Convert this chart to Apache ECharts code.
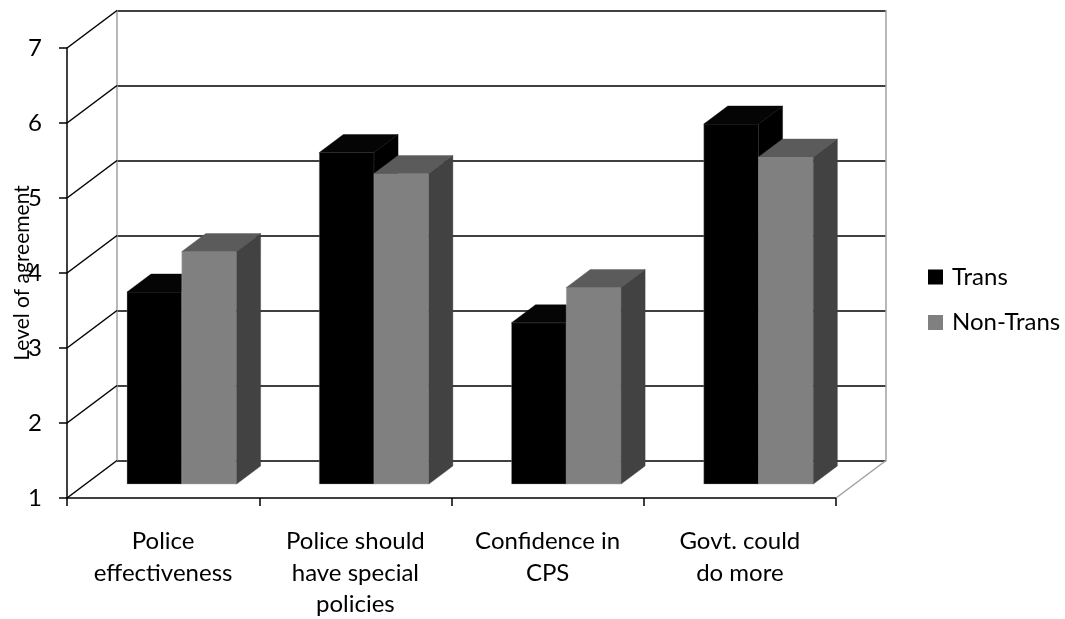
<!DOCTYPE html>
<html>
<head>
<meta charset="utf-8">
<script src="https://cdn.jsdelivr.net/npm/echarts@6/dist/echarts.min.js"></script>
<style>
  html, body { margin: 0; padding: 0; background: #ffffff; }
  #chart { width: 1065px; height: 619px; }
</style>
</head>
<body>
<div id="chart"></div>
<script>
// Survey answers by group (1–7 agreement scale)
const categories = ['Police effectiveness', 'Police should have special policies', 'Confidence in CPS', 'Govt. could do more'];
const categoryLabels = ['Police\neffectiveness', 'Police should\nhave special\npolicies', 'Confidence in\nCPS', 'Govt. could\ndo more'];
const seriesNames = ['Trans', 'Non-Trans'];
const transValues = [3.56, 5.42, 3.15, 5.80];
const nonTransValues = [4.10, 5.14, 3.62, 5.36];
const yTicks = [1, 2, 3, 4, 5, 6, 7];
const axisTitle = 'Level of agreement';

const FONT = 'Lato, "Open Sans", sans-serif';

// Pseudo-3D box geometry (pixels): back wall shift, bar front-face shift, bar thickness
const WALL = [50, -37.5];
const FACE = [18.7, -14];
const DEPTH = [24, -18];
const BAR_FRAC = 0.285;

const palette = {
  Trans: { front: '#000000', top: '#050505', side: '#000000', edge: 'rgba(150,150,150,0.6)' },
  'Non-Trans': { front: '#808080', top: '#5b5b5b', side: '#424242', edge: 'rgba(170,170,170,0.8)' }
};

function barRenderer(slot, colors) {
  return function (params, api) {
    const idx = api.value(0);
    const val = api.value(1);
    const topPt = api.coord([idx, val]);
    const basePt = api.coord([idx, yTicks[0]]);
    const band = api.size([1, 0])[0];
    const w = band * BAR_FRAC;
    const x0 = topPt[0] + (slot === 0 ? -w : 0) + FACE[0];
    const x1 = x0 + w;
    const yt = topPt[1] + FACE[1];
    const yb = basePt[1] + FACE[1];
    const dx = DEPTH[0], dy = DEPTH[1];
    return {
      type: 'group',
      children: [
        { type: 'polygon', shape: { points: [[x0, yt], [x1, yt], [x1, yb], [x0, yb]] },
          style: { fill: colors.front, stroke: colors.edge, lineWidth: 0.6 } },
        { type: 'polygon', shape: { points: [[x0, yt], [x1, yt], [x1 + dx, yt + dy], [x0 + dx, yt + dy]] },
          style: { fill: colors.top, stroke: colors.top, lineWidth: 0.4 } },
        { type: 'polygon', shape: { points: [[x1, yt], [x1 + dx, yt + dy], [x1 + dx, yb + dy], [x1, yb]] },
          style: { fill: colors.side, stroke: colors.side, lineWidth: 0.4 } }
      ]
    };
  };
}

// Side-wall diagonals at each tick plus the right floor edge
function frameRenderer(params, api) {
  const v = api.value(1);
  const p = api.coord([0, v]);
  const band = api.size([1, 0])[0];
  const xl = p[0] - band / 2;
  const children = [
    { type: 'line', shape: { x1: xl, y1: p[1], x2: xl + WALL[0], y2: p[1] + WALL[1] },
      style: { stroke: '#000000', lineWidth: 1.5 } }
  ];
  if (v === yTicks[0]) {
    const xr = xl + band * categories.length;
    children.push({ type: 'line', shape: { x1: xr, y1: p[1], x2: xr + WALL[0], y2: p[1] + WALL[1] },
      style: { stroke: '#a0a0a0', lineWidth: 1.5 } });
  }
  return { type: 'group', children };
}

const chart = echarts.init(document.getElementById('chart'), null, { renderer: 'canvas' });

chart.setOption({
  backgroundColor: '#ffffff',
  animation: false,
  textStyle: { fontFamily: FONT },
  legend: {
    data: seriesNames,
    orient: 'vertical',
    left: 928,
    top: 262,
    padding: 0,
    icon: 'rect',
    itemWidth: 15,
    itemHeight: 15,
    itemGap: 15.5,
    selectedMode: false,
    textStyle: { fontFamily: FONT, fontSize: 24, lineHeight: 30, color: '#000000', padding: [0, 0, 0, 4] }
  },
  grid: [
    { left: 67, right: 229, top: 48, bottom: 121, outerBoundsMode: 'none', containLabel: false },
    { left: 117, right: 179, top: 10.5, bottom: 158.5, outerBoundsMode: 'none', containLabel: false }
  ],
  xAxis: [
    {
      gridIndex: 0,
      type: 'category',
      data: categories,
      boundaryGap: true,
      axisLine: { show: true, lineStyle: { color: '#000000', width: 1.5 } },
      axisTick: { show: true, length: 8, inside: false, lineStyle: { color: '#000000', width: 1.5 } },
      axisLabel: {
        margin: 28,
        fontFamily: FONT,
        fontSize: 24,
        lineHeight: 31.5,
        color: '#000000',
        interval: 0,
        formatter: (value, index) => categoryLabels[index]
      },
      splitLine: { show: false }
    },
    { gridIndex: 1, type: 'category', data: categories, show: false }
  ],
  yAxis: [
    {
      gridIndex: 0,
      type: 'value',
      min: yTicks[0],
      max: yTicks[yTicks.length - 1],
      interval: 1,
      name: axisTitle,
      nameLocation: 'middle',
      nameGap: 34,
      nameRotate: 90,
      nameMoveOverlap: false,
      nameTextStyle: { fontFamily: FONT, fontSize: 21, color: '#000000' },
      axisLine: { show: true, lineStyle: { color: '#000000', width: 1.5 } },
      axisTick: { show: true, length: 8, inside: false, lineStyle: { color: '#000000', width: 1.5 } },
      axisLabel: { margin: 25, fontFamily: FONT, fontSize: 24, color: '#000000', padding: [10, 0, 0, 0] },
      splitLine: { show: false }
    },
    {
      gridIndex: 1,
      type: 'value',
      position: 'left',
      min: yTicks[0],
      max: yTicks[yTicks.length - 1],
      interval: 1,
      axisLine: { show: true, lineStyle: { color: '#a0a0a0', width: 1.5 } },
      axisTick: { show: false },
      axisLabel: { show: false },
      splitLine: { show: true, lineStyle: { color: '#000000', width: 1.5 } }
    },
    {
      gridIndex: 1,
      type: 'value',
      position: 'right',
      min: yTicks[0],
      max: yTicks[yTicks.length - 1],
      interval: 1,
      axisLine: { show: true, lineStyle: { color: '#a0a0a0', width: 1.5 } },
      axisTick: { show: false },
      axisLabel: { show: false },
      splitLine: { show: false }
    }
  ],
  series: [
    {
      type: 'custom',
      name: 'frame',
      xAxisIndex: 0,
      yAxisIndex: 0,
      silent: true,
      renderItem: frameRenderer,
      data: yTicks.map(v => [0, v])
    },
    {
      type: 'custom',
      name: seriesNames[0],
      xAxisIndex: 0,
      yAxisIndex: 0,
      itemStyle: { color: palette.Trans.front },
      renderItem: barRenderer(0, palette.Trans),
      data: transValues.map((v, i) => [i, v])
    },
    {
      type: 'custom',
      name: seriesNames[1],
      xAxisIndex: 0,
      yAxisIndex: 0,
      itemStyle: { color: palette['Non-Trans'].front },
      renderItem: barRenderer(1, palette['Non-Trans']),
      data: nonTransValues.map((v, i) => [i, v])
    }
  ]
});
</script>
</body>
</html>
